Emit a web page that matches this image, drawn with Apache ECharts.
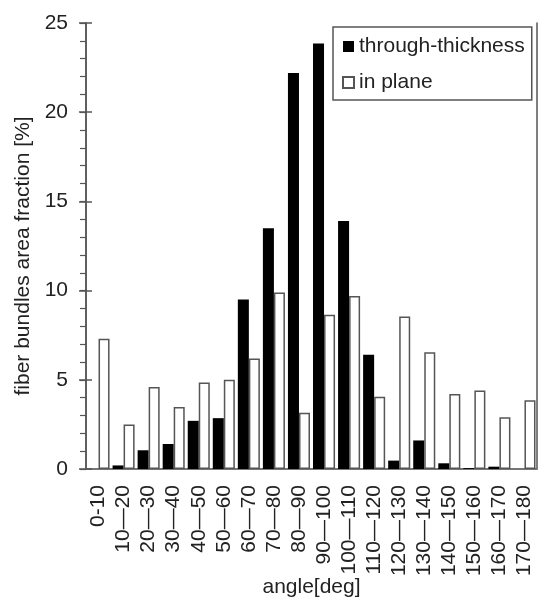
<!DOCTYPE html>
<html>
<head>
<meta charset="utf-8">
<script src="https://cdn.jsdelivr.net/npm/echarts@6/dist/echarts.min.js"></script>
<style>
  html, body { margin: 0; padding: 0; background: #fff; }
  #chart { width: 538px; height: 599px; }
</style>
</head>
<body>
<div id="chart"></div>
<script>
// angle bins
const categories = ['0-10', '10—20', '20—30', '30—40', '40—50', '50—60', '60—70', '70—80', '80—90',
  '90—100', '100—110', '110—120', '120—130', '130—140', '140—150', '150—160', '160—170', '170—180'];
// area fraction [%]
const throughThickness = [0, 0.2, 1.05, 1.4, 2.7, 2.85, 9.5, 13.5, 22.2, 23.85, 13.9, 6.4, 0.47, 1.6, 0.32, 0.05, 0.13, 0];
const inPlane = [7.3, 2.5, 4.6, 3.47, 4.85, 5.0, 6.2, 9.9, 3.15, 8.65, 9.7, 4.05, 8.55, 6.55, 4.2, 4.4, 2.9, 3.85];
const yTicks = [0, 5, 10, 15, 20, 25];

const font = '"Liberation Sans", Arial, sans-serif';
const axisGray = '#555';

const chart = echarts.init(document.getElementById('chart'));

const yBase = {
  type: 'value',
  min: yTicks[0],
  max: yTicks[yTicks.length - 1],
  interval: yTicks[1] - yTicks[0],
  splitLine: { show: false }
};

chart.setOption({
  animation: false,
  backgroundColor: '#fff',
  textStyle: { fontFamily: font },
  grid: { left: 86, right: 1, top: 23, bottom: 130, containLabel: false, outerBoundsMode: 'none' },
  legend: {
    orient: 'vertical',
    left: 333,
    top: 27,
    itemWidth: 11,
    itemHeight: 11,
    itemGap: 15,
    padding: [9, 7, 7, 9],
    borderColor: axisGray,
    borderWidth: 1.5,
    backgroundColor: '#fff',
    textStyle: { fontSize: 21, color: '#222', fontFamily: font },
    data: [
      { name: 'through-thickness', icon: 'rect' },
      { name: 'in plane', icon: 'rect' }
    ]
  },
  xAxis: [
    {
      type: 'category',
      data: categories,
      axisLine: { lineStyle: { color: '#ccc', width: 1.5 } },
      axisTick: { show: false },
      axisLabel: {
        rotate: 90,
        interval: 0,
        margin: 16,
        fontSize: 21,
        color: '#222',
        fontFamily: font
      },
      name: 'angle[deg]',
      nameLocation: 'middle',
      nameGap: 108,
      nameMoveOverlap: false,
      nameTextStyle: { fontSize: 21, color: '#222', fontFamily: font }
    },
    {
      type: 'category',
      data: categories,
      position: 'top',
      axisLine: { lineStyle: { color: axisGray, width: 1.5 } },
      axisTick: { show: false },
      axisLabel: { show: false }
    }
  ],
  yAxis: [
    Object.assign({}, yBase, {
      position: 'left',
      axisLine: { show: true, lineStyle: { color: axisGray, width: 1.5 } },
      axisTick: { show: true, length: 7, lineStyle: { color: axisGray, width: 1.5 } },
      axisLabel: { margin: 18, fontSize: 21, color: '#222', fontFamily: font },
      name: 'fiber bundles area fraction [%]',
      nameLocation: 'middle',
      nameGap: 52,
      nameTextStyle: { fontSize: 21, color: '#222', fontFamily: font, padding: [0, 20, 0, 0] }
    }),
    // inner half of the crossing major ticks
    Object.assign({}, yBase, {
      position: 'left',
      axisLine: { show: true, lineStyle: { color: axisGray, width: 1.5 } },
      axisTick: { show: true, inside: true, length: 6, lineStyle: { color: axisGray, width: 1.5 } },
      axisLabel: { show: false }
    }),
    // minor ticks every 1 %
    Object.assign({}, yBase, {
      position: 'left',
      interval: 1,
      axisLine: { show: false },
      axisTick: { show: true, length: 6, lineStyle: { color: axisGray, width: 1.2 } },
      axisLabel: { show: false }
    }),
    Object.assign({}, yBase, {
      position: 'right',
      axisLine: { show: true, lineStyle: { color: axisGray, width: 1.5 } },
      axisTick: { show: false },
      axisLabel: { show: false }
    })
  ],
  series: [
    {
      name: 'through-thickness',
      type: 'bar',
      data: throughThickness,
      barGap: '0%',
      barCategoryGap: '12%',
      itemStyle: { color: '#000' }
    },
    {
      name: 'in plane',
      type: 'bar',
      data: inPlane,
      barGap: '0%',
      barCategoryGap: '12%',
      itemStyle: { color: '#fff', borderColor: '#555', borderWidth: 1.5 }
    }
  ]
});
</script>
</body>
</html>
